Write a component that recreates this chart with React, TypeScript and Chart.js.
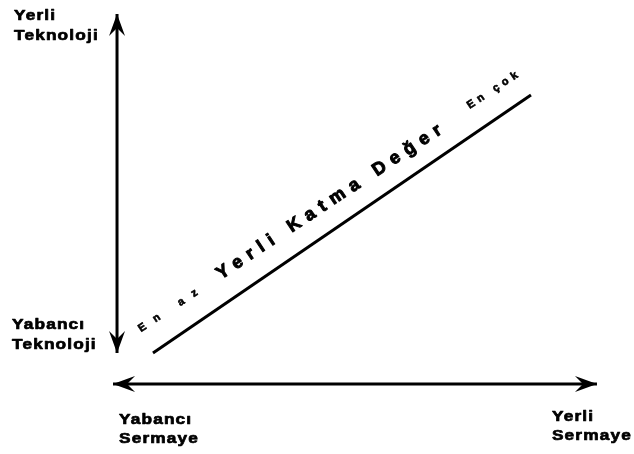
import React, { useEffect, useRef } from "react";
import { Chart, registerables } from "chart.js";

Chart.register(...registerables);

// Conceptual axes: x = Yabancı Sermaye (0) → Yerli Sermaye (100)
//                  y = Yabancı Teknoloji (0) → Yerli Teknoloji (100)
const X_RANGE = [-23.35, 107.65];
const Y_RANGE = [-18.92, 103.78];

const horizontalArrow = [
  { x: 0, y: 0 },
  { x: 100, y: 0 },
];
const verticalArrow = [
  { x: 0.83, y: 8.38 },
  { x: 0.83, y: 100 },
];
const valueAddedLine = [
  { x: 8.26, y: 8.38 },
  { x: 86.36, y: 78.11 },
];

const axisLabels = [
  { lines: ["Yerli", "Teknoloji"], x: -20.45, y: 98.24 },
  { lines: ["Yabancı", "Teknoloji"], x: -20.87, y: 14.86 },
  { lines: ["Yabancı", "Sermaye"], x: 1.24, y: -10.81 },
  { lines: ["Yerli", "Sermaye"], x: 90.7, y: -10.0 },
];

const lineLabels = [
  { text: "En az", x: 5.8, y: 14.0, size: 11, spacing: 10 },
  { text: "Yerli Katma Değer", x: 22.3, y: 28.2, size: 18, spacing: 7 },
  { text: "En çok", x: 73.7, y: 74.3, size: 11, spacing: 4.5 },
];
const LABEL_ANGLE = -33.5;

const FONT = '"Liberation Sans", Arial, sans-serif';

const drawHeavyText = (ctx: CanvasRenderingContext2D, t: string, x: number, y: number, w: number) => {
  ctx.fillText(t, x, y);
  ctx.lineWidth = w;
  ctx.strokeStyle = "#000";
  ctx.lineJoin = "round";
  ctx.strokeText(t, x, y);
};

const diagramPlugin = {
  id: "diagram",
  afterDatasetsDraw(chart: any) {
    const ctx = chart.ctx as CanvasRenderingContext2D;
    const xs = chart.scales.x;
    const ys = chart.scales.y;
    const px = (v: number) => xs.getPixelForValue(v);
    const py = (v: number) => ys.getPixelForValue(v);

    // arrowheads
    const head = (tx: number, ty: number, fx: number, fy: number) => {
      const ang = Math.atan2(ty - fy, tx - fx);
      const L = 22;
      const W = 8;
      const N = 14;
      ctx.save();
      ctx.translate(tx, ty);
      ctx.rotate(ang);
      ctx.beginPath();
      ctx.moveTo(0, 0);
      ctx.lineTo(-L, -W);
      ctx.lineTo(-N, 0);
      ctx.lineTo(-L, W);
      ctx.closePath();
      ctx.fillStyle = "#000";
      ctx.fill();
      ctx.restore();
    };
    chart.data.datasets.forEach((ds: any) => {
      if (!ds.arrows) return;
      const a = ds.data[0];
      const b = ds.data[ds.data.length - 1];
      head(px(a.x), py(a.y), px(b.x), py(b.y));
      head(px(b.x), py(b.y), px(a.x), py(a.y));
    });

    // axis labels
    ctx.save();
    ctx.fillStyle = "#000";
    ctx.font = `bold 15px ${FONT}`;
    ctx.textAlign = "left";
    ctx.textBaseline = "alphabetic";
    (ctx as any).letterSpacing = "1px";
    axisLabels.forEach((l) => {
      l.lines.forEach((t, i) => {
        ctx.save();
        ctx.translate(px(l.x), py(l.y) + i * 19.5);
        ctx.scale(1.15, 1);
        drawHeavyText(ctx, t, 0, 0, 0.7);
        ctx.restore();
      });
    });
    ctx.restore();

    // rotated labels along the line
    lineLabels.forEach((l) => {
      ctx.save();
      ctx.fillStyle = "#000";
      ctx.font = `bold ${l.size}px ${FONT}`;
      (ctx as any).letterSpacing = `${l.spacing}px`;
      ctx.textAlign = "left";
      ctx.textBaseline = "alphabetic";
      ctx.translate(px(l.x), py(l.y));
      ctx.rotate((LABEL_ANGLE * Math.PI) / 180);
      drawHeavyText(ctx, l.text, 0, 0, l.size > 12 ? 1 : 0.6);
      ctx.restore();
    });
  },
};

export default function App() {
  const ref = useRef<HTMLCanvasElement>(null);
  useEffect(() => {
    if (!ref.current) return;
    const chart = new Chart(ref.current, {
      type: "line",
      data: {
        datasets: [
          {
            data: horizontalArrow,
            borderColor: "#000",
            borderWidth: 3,
            pointRadius: 0,
            arrows: true,
          } as any,
          {
            data: verticalArrow,
            borderColor: "#000",
            borderWidth: 3,
            pointRadius: 0,
            arrows: true,
          } as any,
          {
            data: valueAddedLine,
            borderColor: "#000",
            borderWidth: 3,
            pointRadius: 0,
          },
        ],
      },
      options: {
        animation: false,
        responsive: false,
        devicePixelRatio: 1,
        layout: { padding: 0 },
        plugins: { legend: { display: false }, tooltip: { enabled: false } },
        events: [],
        scales: {
          x: { type: "linear", min: X_RANGE[0], max: X_RANGE[1], display: false },
          y: { type: "linear", min: Y_RANGE[0], max: Y_RANGE[1], display: false },
        },
      },
      plugins: [diagramPlugin],
    });
    return () => chart.destroy();
  }, []);
  return (
    <div style={{ position: "absolute", left: 0, top: 0, width: 634, height: 454, background: "#fff" }}>
      <canvas ref={ref} width={634} height={454} />
    </div>
  );
}
